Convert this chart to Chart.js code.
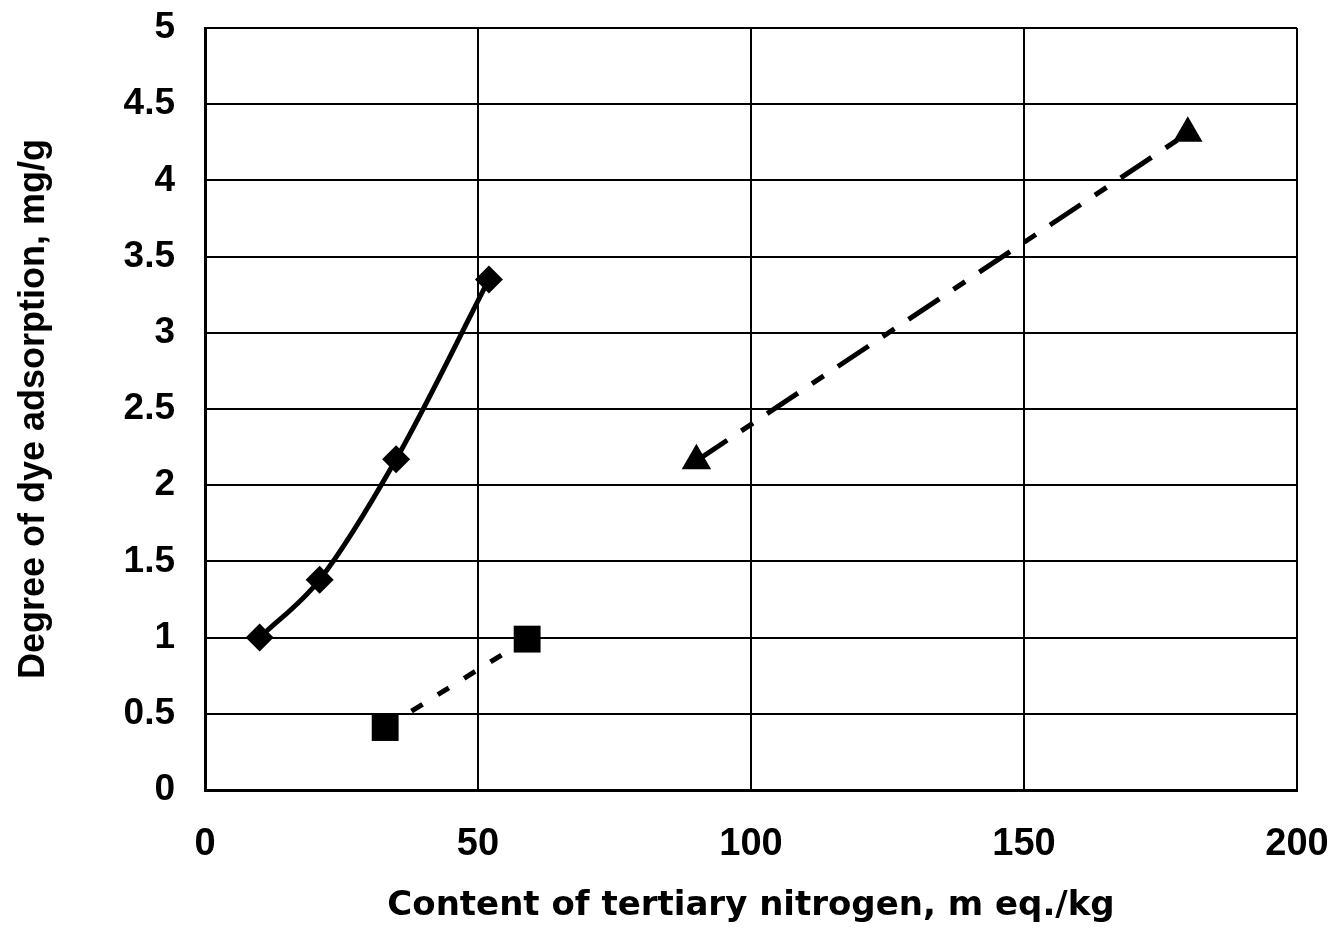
<!DOCTYPE html>
<html>
<head>
<meta charset="utf-8">
<script src="https://cdn.jsdelivr.net/npm/chart.js@4/dist/chart.umd.min.js"></script>
<style>
  html, body { margin: 0; padding: 0; background: #fff; }
  #wrap { width: 1334px; height: 928px; position: relative; }
</style>
</head>
<body>
<div id="wrap"><canvas id="c" width="1334" height="928"></canvas></div>
<script>
const xTitle = "Content of tertiary nitrogen, m eq./kg";
const yTitle = "Degree of dye adsorption, mg/g";

const diamondX = [10, 21, 35, 52];
const diamondY = [1.0, 1.38, 2.17, 3.35];

const squareX = [33, 59];
const squareY = [0.41, 0.99];

const triangleX = [90, 180];
const triangleY = [2.16, 4.31];

const xMin = 0, xMax = 200, xStep = 50;
const yMin = 0, yMax = 5, yStep = 0.5;

const toPts = (xs, ys) => xs.map((x, i) => ({ x: x, y: ys[i] }));

function noPad(s) {
  s.paddingLeft = 0; s.paddingRight = 0; s.paddingTop = 0; s.paddingBottom = 0;
}

new Chart(document.getElementById('c'), {
  type: 'scatter',
  data: {
    datasets: [
      {
        data: toPts(diamondX, diamondY),
        showLine: true,
        borderColor: '#000',
        backgroundColor: '#000',
        borderWidth: 5,
        tension: 0.4,
        cubicInterpolationMode: 'monotone',
        pointStyle: 'rectRot',
        pointRadius: 14,
        pointBorderWidth: 0
      },
      {
        data: toPts(squareX, squareY),
        showLine: true,
        borderColor: '#000',
        backgroundColor: '#000',
        borderWidth: 5,
        borderDash: [13, 18],
        pointStyle: 'rect',
        pointRadius: 19,
        pointBorderWidth: 0
      },
      {
        data: toPts(triangleX, triangleY),
        showLine: true,
        borderColor: '#000',
        backgroundColor: '#000',
        borderWidth: 5,
        borderDash: [37, 17, 14, 17],
        pointStyle: 'triangle',
        pointRadius: 17,
        pointBorderWidth: 0
      }
    ]
  },
  options: {
    responsive: false,
    animation: false,
    layout: { padding: { left: 0, top: 28, right: 37, bottom: 0 } },
    plugins: { legend: { display: false }, tooltip: { enabled: false } },
    scales: {
      x: {
        type: 'linear',
        min: xMin, max: xMax,
        ticks: {
          stepSize: xStep,
          color: '#000',
          padding: 32,
          maxRotation: 0,
          font: { family: 'Liberation Sans', size: 38, weight: 'bold' }
        },
        grid: { color: '#000', lineWidth: 2, drawTicks: false },
        border: { color: '#000', width: 3 },
        title: {
          display: true,
          text: xTitle,
          color: '#000',
          padding: { top: 0, bottom: 1 },
          font: { family: 'DejaVu Sans', size: 34, weight: 'bold' }
        },
        afterFit: (s) => { s.height = 138; noPad(s); }
      },
      y: {
        type: 'linear',
        min: yMin, max: yMax,
        ticks: {
          stepSize: yStep,
          color: '#000',
          padding: 30,
          callback: (v) => String(v),
          font: { family: 'Liberation Sans', size: 37, weight: 'bold' }
        },
        grid: { color: '#000', lineWidth: 2, drawTicks: false },
        border: { color: '#000', width: 3 },
        title: {
          display: true,
          text: yTitle,
          color: '#000',
          padding: { top: 12, bottom: 0 },
          font: { family: 'Liberation Sans', size: 36, weight: 'bold' }
        },
        afterFit: (s) => { s.width = 205; noPad(s); }
      }
    }
  }
});
</script>
</body>
</html>
